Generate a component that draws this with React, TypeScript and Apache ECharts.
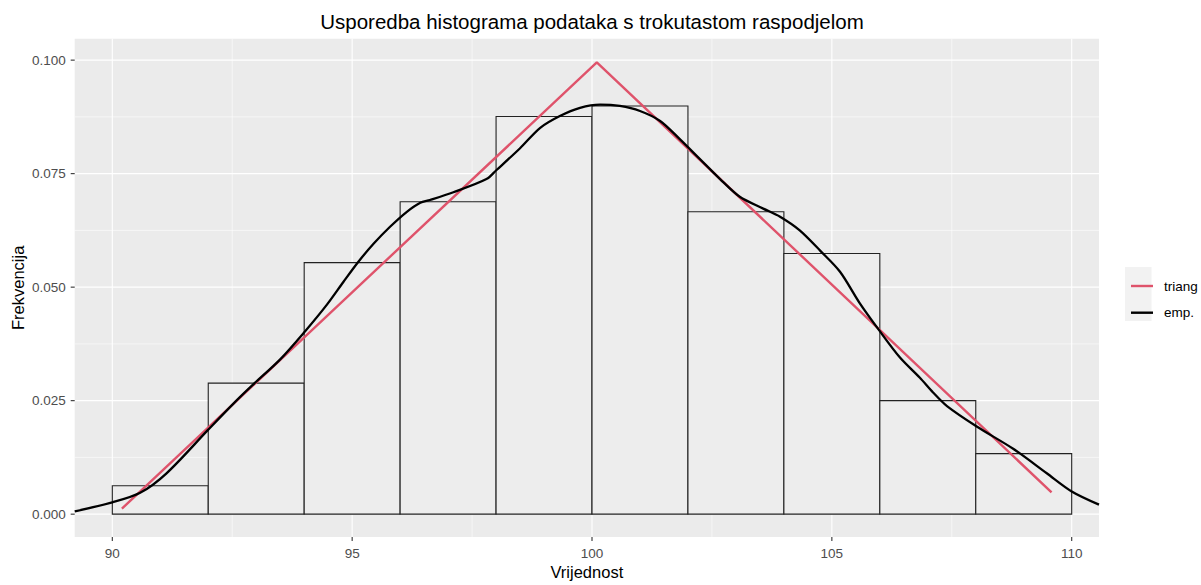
import React, { useEffect, useRef } from "react";
import * as echarts from "echarts";

// ---- axis ranges ----
const X_MIN = 89.216;
const X_MAX = 110.569;
const Y_MIN = -0.00503;
const Y_MAX = 0.10472;

// ---- histogram ----
const binStarts = [90, 92, 94, 96, 98, 100, 102, 104, 106, 108];
const binWidth = 2;
const binHeights = [0.00627, 0.02886, 0.0554, 0.0688, 0.0876, 0.0899, 0.0666, 0.0574, 0.025, 0.01334];

// ---- triangular density ----
const triangX = [90.2, 100.1, 109.58];
const triangY = [0.0012, 0.0995, 0.0048];

// ---- empirical density ----
const empX = [
  89.216, 90.0, 90.58, 91.13, 91.99, 92.52, 92.91, 93.5, 94.02, 94.47, 94.82, 95.13, 95.45, 95.79,
  96.14, 96.42, 96.62, 97.11, 97.8, 98.01, 98.5, 98.92, 99.33, 99.75, 100.17, 100.58, 101.0,
  101.42, 101.83, 102.25, 102.67, 103.08, 103.57, 103.92, 104.33, 104.76, 105.17, 105.58, 106.0,
  106.42, 106.83, 107.11, 107.4, 108.02, 108.78, 109.48, 110.0, 110.569,
];
const empY = [
  0.0006, 0.0026, 0.0047, 0.009, 0.0185, 0.0243, 0.0283, 0.0341, 0.0403, 0.0461, 0.0512, 0.0556,
  0.0596, 0.0633, 0.0666, 0.0686, 0.0692, 0.0709, 0.0738, 0.0758, 0.0806, 0.0851, 0.0877, 0.0895,
  0.0902, 0.0899, 0.0888, 0.0866, 0.0826, 0.0782, 0.0738, 0.0699, 0.0673, 0.0655, 0.0625, 0.058,
  0.0534, 0.0465, 0.0403, 0.0345, 0.0301, 0.0268, 0.0238, 0.0193, 0.0144, 0.009, 0.005, 0.0021,
];

// ---- ticks ----
const xMajor = [90, 95, 100, 105, 110];
const xMinor = [92.5, 97.5, 102.5, 107.5];
const xTickLabels = ["90", "95", "100", "105", "110"];
const yMajor = [0, 0.025, 0.05, 0.075, 0.1];
const yMinor = [0.0125, 0.0375, 0.0625, 0.0875];
const yTickLabels = ["0.000", "0.025", "0.050", "0.075", "0.100"];

const FONT = "'Liberation Sans', Arial, sans-serif";
const RED = "#DF536B";

export default function App() {
  const ref = useRef<HTMLDivElement>(null);

  useEffect(() => {
    document.body.style.margin = "0";
    if (!ref.current) return;
    const chart = echarts.init(ref.current, null, { renderer: "svg" });

    const gridData: number[][] = [
      ...xMajor.map((v) => [v, 0, 1]),
      ...xMinor.map((v) => [v, 0, 0]),
      ...yMajor.map((v) => [v, 1, 1]),
      ...yMinor.map((v) => [v, 1, 0]),
    ];
    const tickData: number[][] = [
      ...xMajor.map((v, i) => [v, 0, i]),
      ...yMajor.map((v, i) => [v, 1, i]),
    ];
    const histData = binStarts.map((s, i) => [s, s + binWidth, binHeights[i]]);

    const option: any = {
      animation: false,
      backgroundColor: "#ffffff",
      textStyle: { fontFamily: FONT },
      title: {
        text: "Usporedba histograma podataka s trokutastom raspodjelom",
        left: 587,
        top: 6,
        textAlign: "center",
        textStyle: { fontFamily: FONT, fontSize: 20.5, fontWeight: "normal", color: "#000" },
      },
      grid: { left: 74.7, top: 38.7, right: 102, bottom: 44.3, show: true, backgroundColor: "#EBEBEB", borderWidth: 0 },
      xAxis: {
        type: "value",
        min: X_MIN,
        max: X_MAX,
        axisLine: { show: false },
        axisTick: { show: false },
        axisLabel: { show: false },
        splitLine: { show: false },
        name: "Vrijednost",
        nameLocation: "middle",
        nameGap: 26,
        nameTextStyle: { fontFamily: FONT, fontSize: 16.5, color: "#000" },
      },
      yAxis: {
        type: "value",
        min: Y_MIN,
        max: Y_MAX,
        axisLine: { show: false },
        axisTick: { show: false },
        axisLabel: { show: false },
        splitLine: { show: false },
        name: "Frekvencija",
        nameLocation: "middle",
        nameGap: 48,
        nameTextStyle: { fontFamily: FONT, fontSize: 16.5, color: "#000" },
      },
      legend: {
        orient: "vertical",
        left: 1126,
        top: 273,
        itemWidth: 22,
        itemHeight: 2.4,
        itemGap: 10.7,
        z: 5,
        textStyle: { fontFamily: FONT, fontSize: 13.5, color: "#000", lineHeight: 16, padding: [0, 0, 0, 6] },
        data: [
          { name: "triang", icon: "rect" },
          { name: "emp.", icon: "rect" },
        ],
      },
      graphic: [
        {
          type: "rect",
          z: 0,
          shape: { x: 1125, y: 267, width: 26.5, height: 54 },
          style: { fill: "#F2F2F2" },
        },
      ],
      series: [
        {
          type: "custom",
          name: "grid",
          silent: true,
          clip: false,
          z: 1,
          data: gridData,
          renderItem: (params: any, api: any) => {
            const v = api.value(0);
            const dir = api.value(1);
            const major = api.value(2);
            let p0, p1;
            if (dir === 0) {
              p0 = api.coord([v, Y_MIN]);
              p1 = api.coord([v, Y_MAX]);
            } else {
              p0 = api.coord([X_MIN, v]);
              p1 = api.coord([X_MAX, v]);
            }
            return {
              type: "line",
              shape: { x1: p0[0], y1: p0[1], x2: p1[0], y2: p1[1] },
              style: { stroke: "#FFFFFF", lineWidth: major ? 1.1 : 0.55 },
            };
          },
        },
        {
          type: "custom",
          name: "ticks",
          silent: true,
          clip: false,
          z: 1,
          data: tickData,
          renderItem: (params: any, api: any) => {
            const v = api.value(0);
            const dir = api.value(1);
            const idx = api.value(2);
            if (dir === 0) {
              const p = api.coord([v, Y_MIN]);
              return {
                type: "group",
                children: [
                  { type: "line", shape: { x1: p[0], y1: p[1], x2: p[0], y2: p[1] + 4 }, style: { stroke: "#333333", lineWidth: 1.1 } },
                  {
                    type: "text",
                    x: p[0],
                    y: p[1] + 9,
                    style: { text: xTickLabels[idx], fill: "#4D4D4D", fontSize: 13.5, fontFamily: FONT, align: "center", verticalAlign: "top" },
                  },
                ],
              };
            }
            const p = api.coord([X_MIN, v]);
            return {
              type: "group",
              children: [
                { type: "line", shape: { x1: p[0] - 4, y1: p[1], x2: p[0], y2: p[1] }, style: { stroke: "#333333", lineWidth: 1.1 } },
                {
                  type: "text",
                  x: p[0] - 9,
                  y: p[1],
                  style: { text: yTickLabels[idx], fill: "#4D4D4D", fontSize: 13.5, fontFamily: FONT, align: "right", verticalAlign: "middle" },
                },
              ],
            };
          },
        },
        {
          type: "custom",
          name: "hist",
          silent: true,
          z: 2,
          encode: { x: [0, 1], y: 2 },
          data: histData,
          renderItem: (params: any, api: any) => {
            const a = api.coord([api.value(0), api.value(2)]);
            const b = api.coord([api.value(1), 0]);
            return {
              type: "rect",
              shape: { x: a[0], y: a[1], width: b[0] - a[0], height: b[1] - a[1] },
              style: { fill: "#EDEDED", stroke: "#222222", lineWidth: 1.1 },
            };
          },
        },
        {
          type: "line",
          name: "triang",
          z: 3,
          showSymbol: false,
          symbol: "none",
          color: RED,
          lineStyle: { color: RED, width: 2.4 },
          data: triangX.map((x, i) => [x, triangY[i]]),
        },
        {
          type: "line",
          name: "emp.",
          z: 4,
          showSymbol: false,
          symbol: "none",
          smooth: 0.3,
          color: "#000000",
          lineStyle: { color: "#000000", width: 2.3 },
          data: empX.map((x, i) => [x, empY[i]]),
        },
      ],
    };

    chart.setOption(option);
    return () => chart.dispose();
  }, []);

  return <div ref={ref} style={{ width: 1201, height: 585 }} />;
}
